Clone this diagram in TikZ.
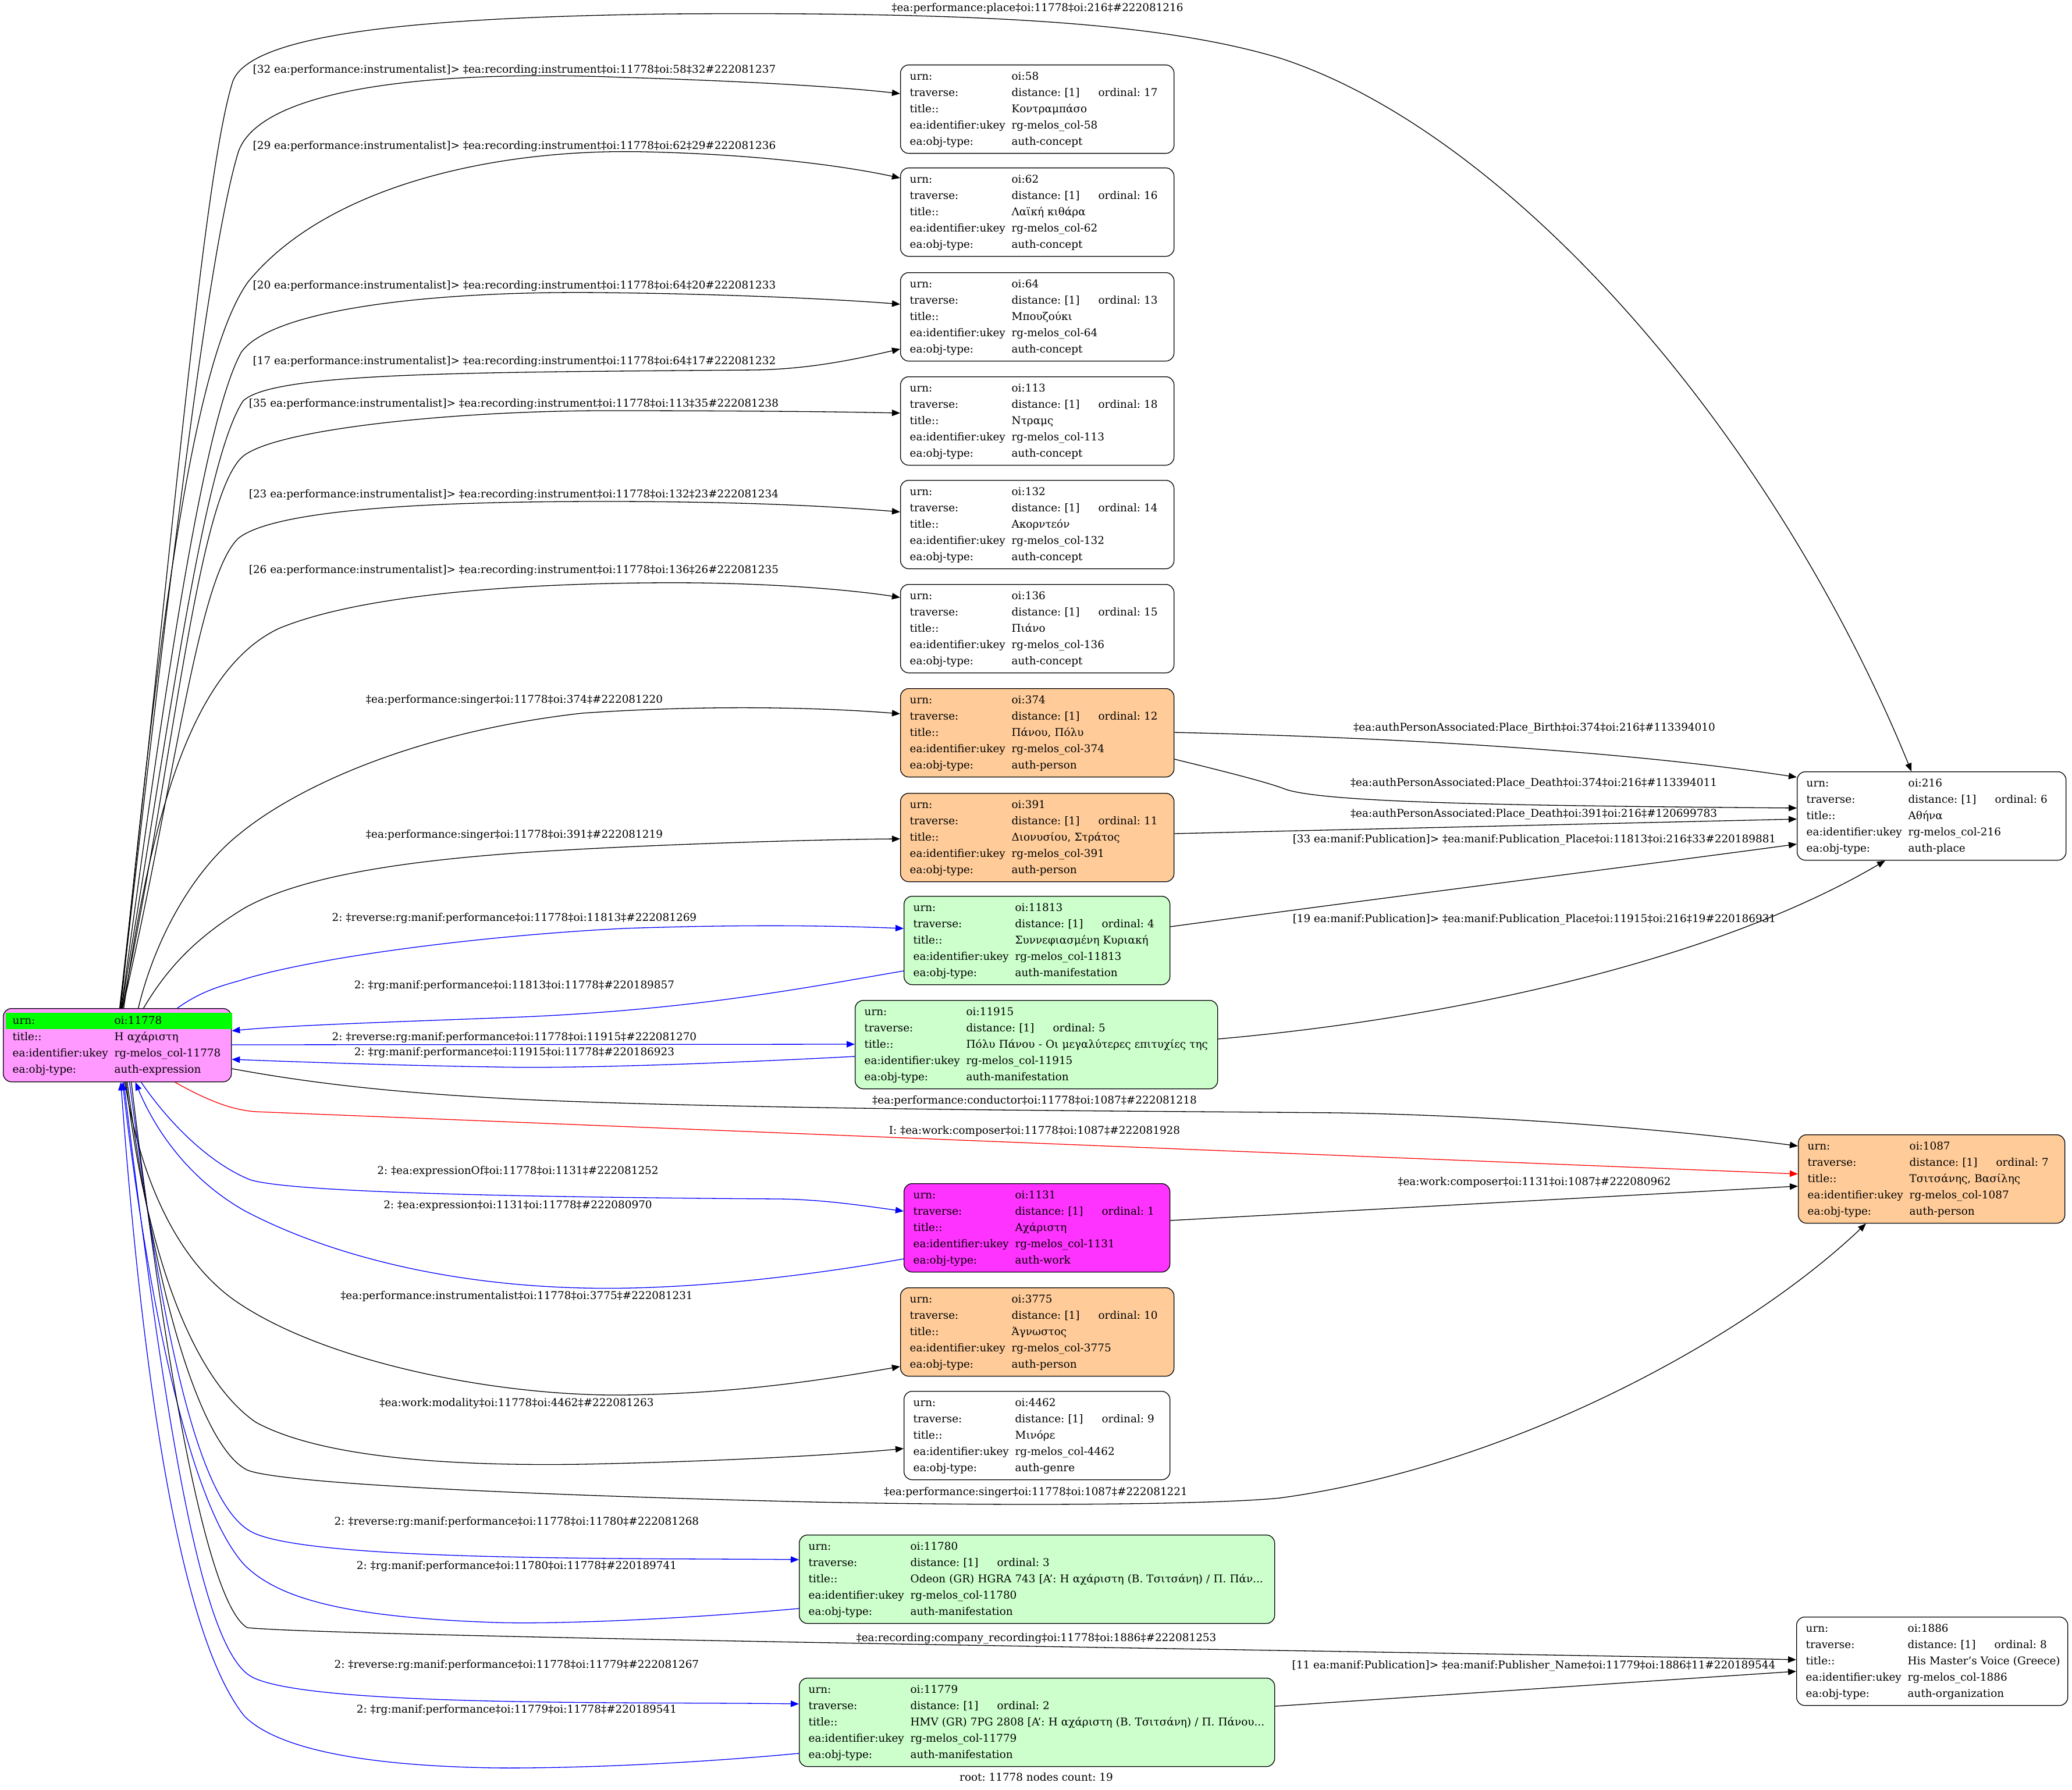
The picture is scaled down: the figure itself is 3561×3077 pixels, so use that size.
\documentclass[tikz,border=0pt]{standalone}
\usepackage{fontspec}
\setmainfont{DejaVu Serif}
\usepackage{array}
\usepackage{colortbl}
\usetikzlibrary{calc,arrows.meta}
\frenchspacing

\definecolor{persfill}{HTML}{FFCC99}
\definecolor{maniffill}{HTML}{CCFFCC}
\definecolor{workfill}{HTML}{FF33FF}
\definecolor{rootfill}{HTML}{FF99FF}
\definecolor{urngreen}{HTML}{00FF00}

\newcommand{\rowsof}[4]{%
\begin{tabular}{@{}p{87.5pt}@{}p{74.5pt}@{}l@{}}
urn: & oi:#1 & \\
traverse: & distance: [1] & ordinal: #2\\
title:: & \multicolumn{2}{@{}l@{}}{#3}\\
ea:identifier:ukey & \multicolumn{2}{@{}l@{}}{rg-melos\_col-#1}\\
ea:obj-type: & \multicolumn{2}{@{}l@{}}{auth-#4}
\end{tabular}}

\begin{document}
\begin{tikzpicture}[x=0.5pt, y=-0.5pt, line width=0.65pt,
    every node/.style={font=\fontsize{9.2}{14}\selectfont\frenchspacing},
    rec/.style={draw, rounded corners=7pt, anchor=north west, inner xsep=8pt, inner ysep=0pt, minimum height=76pt, align=left},
    lbl/.style={inner sep=0pt}]
            \useasboundingbox (0,0) rectangle (3561,3077);

            \node[rec, fill=rootfill, text width=180pt, minimum height=63pt] (R) at (5,1733) {\begin{tabular}{@{}p{86pt}@{\hspace{1.5pt}}p{95pt}@{}}
                \cellcolor{urngreen}urn: & \cellcolor{urngreen}oi:11778\\
                title:: & Η αχάριστη\\
                ea:identifier:ukey & rg-melos\_col-11778\\
                ea:obj-type: & auth-expression
                \end{tabular}};

            \node[rec, text width=219pt] (N58) at (1547,111) {\rowsof{58}{17}{Κοντραμπάσο}{concept}};
            \node[rec, text width=219pt] (N62) at (1547,288) {\rowsof{62}{16}{Λαϊκή κιθάρα}{concept}};
            \node[rec, text width=219pt] (N64) at (1547,468) {\rowsof{64}{13}{Μπουζούκι}{concept}};
            \node[rec, text width=219pt] (N113) at (1547,647) {\rowsof{113}{18}{Ντραμς}{concept}};
            \node[rec, text width=219pt] (N132) at (1547,825) {\rowsof{132}{14}{Ακορντεόν}{concept}};
            \node[rec, text width=219pt] (N136) at (1547,1004) {\rowsof{136}{15}{Πιάνο}{concept}};
            \node[rec, fill=persfill, text width=219pt] (N374) at (1547,1183) {\rowsof{374}{12}{Πάνου, Πόλυ}{person}};
            \node[rec, fill=persfill, text width=219pt] (N391) at (1547,1363) {\rowsof{391}{11}{Διονυσίου, Στράτος}{person}};
            \node[rec, fill=maniffill, text width=212.5pt] (N11813) at (1553,1540) {\rowsof{11813}{4}{Συννεφιασμένη Κυριακή}{manifestation}};
            \node[rec, fill=maniffill, text width=295.5pt] (N11915) at (1469,1719) {\rowsof{11915}{5}{Πόλυ Πάνου - Οι μεγαλύτερες επιτυχίες της}{manifestation}};
            \node[rec, fill=workfill, text width=212.5pt] (N1131) at (1553,2034) {\rowsof{1131}{1}{Αχάριστη}{work}};
            \node[rec, fill=persfill, text width=219pt] (N3775) at (1547,2213) {\rowsof{3775}{10}{Άγνωστος}{person}};
            \node[rec, text width=212.5pt] (N4462) at (1553,2391) {\rowsof{4462}{9}{Μινόρε}{genre}};
            \node[rec, fill=maniffill, text width=392.5pt] (N11780) at (1373,2638) {\rowsof{11780}{3}{Odeon (GR) HGRA 743 [A{\char"27}: Η αχάριστη (Β. Τσιτσάνη) / Π. Πάν...}{manifestation}};
            \node[rec, fill=maniffill, text width=392.5pt] (N11779) at (1373,2884) {\rowsof{11779}{2}{HMV (GR) 7PG 2808 [A{\char"27}: Η αχάριστη (Β. Τσιτσάνη) / Π. Πάνου...}{manifestation}};
            \node[rec, text width=215pt] (N216) at (3088,1326) {\rowsof{216}{6}{Αθήνα}{place}};
            \node[rec, fill=persfill, text width=213pt] (N1087) at (3090,1950) {\rowsof{1087}{7}{Τσιτσάνης, Βασίλης}{person}};
            \node[rec, text width=217pt] (N1886) at (3087,2779) {\rowsof{1886}{8}{His Master{\char"27}s Voice (Greece)}{organization}};

            \tikzset{arr/.style={-{Triangle[length=7pt,width=5.5pt]}}}
            \tikzset{barr/.style={arr, draw=blue}}
            \tikzset{rarr/.style={arr, draw=red}}

            \draw[arr] ($(R.north)+(4,0)$) .. controls (300,900) and (350,300) .. (400,140) .. controls (430,60) and (700,30) .. (1150,24) .. controls (1700,20) and (2000,40) .. (2200,100) .. controls (2600,230) and (3050,750) .. ($(N216.north west)+(197,0)$);
            \draw[arr] ($(R.north)+(5,0)$) .. controls (290,1000) and (360,420) .. (410,260) .. controls (450,150) and (750,120) .. (1069,133) .. controls (1300,140) and (1450,150) .. ($(N58.north west)+(0,50)$);
            \draw[arr] ($(R.north)+(6,0)$) .. controls (270,1100) and (330,620) .. (426,485) .. controls (560,320) and (850,255) .. (1107,261) .. controls (1300,265) and (1450,285) .. ($(N62.north west)+(0,18)$);
            \draw[arr] ($(R.north)+(7,0)$) .. controls (280,1200) and (350,720) .. (415,605) .. controls (470,530) and (750,500) .. (1030,503) .. controls (1250,505) and (1450,515) .. ($(N64.north west)+(0,55)$);
            \draw[arr] ($(R.north)+(7,0)$) .. controls (290,1250) and (350,790) .. (418,689) .. controls (470,640) and (800,640) .. (1300,636) .. controls (1400,634) and (1480,615) .. ($(N64.north west)+(0,132)$);
            \draw[arr] ($(R.north)+(8,0)$) .. controls (300,1300) and (340,850) .. (418,784) .. controls (480,735) and (800,706) .. (1038,706) .. controls (1300,706) and (1450,708) .. ($(N113.north west)+(0,63)$);
            \draw[arr] ($(R.north)+(9,0)$) .. controls (300,1350) and (340,990) .. (410,925) .. controls (480,870) and (800,862) .. (1038,862) .. controls (1300,862) and (1450,872) .. ($(N132.north west)+(0,55)$);
            \draw[arr] ($(R.north)+(11,0)$) .. controls (260,1400) and (330,1150) .. (480,1080) .. controls (650,1010) and (1000,1000) .. (1200,1002) .. controls (1350,1004) and (1470,1015) .. ($(N136.north west)+(0,23)$);
            \draw[arr] ($(R.north)+(36,0)$) .. controls (270,1600) and (340,1490) .. (411,1434) .. controls (500,1360) and (700,1260) .. (1000,1226) .. controls (1200,1212) and (1400,1215) .. ($(N374.north west)+(0,44)$);
            \draw[arr] ($(R.north)+(45,0)$) .. controls (290,1660) and (340,1610) .. (420,1561) .. controls (520,1505) and (700,1480) .. (893,1466) .. controls (1100,1452) and (1400,1443) .. ($(N391.north west)+(0,79)$);
            \draw[barr] ($(R.north)+(103,0)$) .. controls (340,1708) and (370,1697) .. (411,1686) .. controls (520,1650) and (800,1610) .. (1071,1596) .. controls (1300,1588) and (1450,1592) .. ($(N11813.north west)+(0,56)$);
            \draw[barr] ($(N11813.north west)+(0,129)$) .. controls (1400,1695) and (1200,1735) .. (900,1748) .. controls (700,1756) and (500,1762) .. ($(R.north east)+(0,39)$);
            \draw[barr] ($(R.north east)+(0,63)$) -- ($(N11915.north west)+(0,76)$);
            \draw[barr] ($(N11915.north west)+(0,97)$) .. controls (1300,1825) and (1000,1838) .. (848,1834) .. controls (700,1832) and (500,1825) .. ($(R.north east)+(0,88)$);
            \draw[arr] ($(R.north east)+(0,104)$) .. controls (550,1865) and (700,1880) .. (900,1890) .. controls (1300,1908) and (2000,1910) .. (2300,1913) .. controls (2600,1918) and (2900,1945) .. ($(N1087.north west)+(0,20)$);
            \draw[rarr] ($(R.south)+(99,0)$) .. controls (350,1888) and (395,1908) .. (440,1911) -- ($(N1087.north west)+(0,68)$);
            \draw[barr] ($(R.south)+(41,0)$) .. controls (290,1930) and (360,2000) .. (430,2028) .. controls (500,2050) and (900,2058) .. (1340,2061) .. controls (1420,2062) and (1500,2075) .. ($(N1131.north west)+(0,48)$);
            \draw[barr] ($(N1131.north west)+(0,130)$) .. controls (1350,2200) and (1150,2218) .. (1000,2214) .. controls (750,2208) and (550,2150) .. (420,2081) .. controls (330,2030) and (270,1950) .. ($(R.south)+(31,0)$);
            \draw[arr] ($(R.south)+(13,0)$) .. controls (240,2020) and (300,2160) .. (400,2233) .. controls (550,2340) and (850,2400) .. (1070,2398) .. controls (1250,2396) and (1400,2375) .. ($(N3775.north west)+(0,136)$);
            \draw[arr] ($(R.south)+(15,0)$) .. controls (250,2150) and (330,2370) .. (440,2445) .. controls (560,2510) and (800,2520) .. (1000,2517) .. controls (1250,2512) and (1450,2500) .. ($(N4462.north west)+(0,99)$);
            \draw[arr] ($(R.south)+(17,0)$) .. controls (270,2250) and (350,2490) .. (425,2527) .. controls (480,2550) and (900,2570) .. (1400,2582) .. controls (1800,2590) and (2100,2585) .. (2200,2575) .. controls (2600,2520) and (3000,2300) .. ($(N1087.south west)+(117,0)$);
            \draw[barr] ($(R.south)+(21,0)$) .. controls (280,2300) and (340,2580) .. (430,2632) .. controls (520,2685) and (1100,2678) .. ($(N11780.north west)+(0,43)$);
            \draw[barr] ($(N11780.north west)+(0,127)$) .. controls (1150,2785) and (950,2792) .. (850,2789) .. controls (600,2780) and (480,2750) .. (420,2690) .. controls (320,2580) and (250,2200) .. ($(R.south)+(9,0)$);
            \draw[arr] ($(R.south)+(24,0)$) .. controls (290,2400) and (360,2760) .. (425,2798) .. controls (600,2815) and (2500,2840) .. ($(N1886.north west)+(0,74)$);
            \draw[barr] ($(R.south)+(11,0)$) .. controls (290,2500) and (350,2830) .. (430,2881) .. controls (520,2935) and (1100,2925) .. ($(N11779.north west)+(0,45)$);
            \draw[barr] ($(N11779.north west)+(0,130)$) .. controls (1150,3035) and (950,3040) .. (850,3039) .. controls (600,3035) and (470,3000) .. (420,2950) .. controls (300,2800) and (240,2300) .. ($(R.south)+(6,0)$);

            \draw[arr] ($(N374.north east)+(0,76)$) .. controls (2500,1270) and (2850,1300) .. ($(N216.north west)+(0,10)$);
            \draw[arr] ($(N374.north east)+(0,122)$) .. controls (2100,1325) and (2180,1345) .. (2210,1357) .. controls (2280,1380) and (2600,1385) .. ($(N216.north west)+(0,63)$);
            \draw[arr] ($(N391.north east)+(0,70)$) -- ($(N216.north west)+(0,82)$);
            \draw[arr] ($(N11813.north east)+(0,53)$) .. controls (2400,1540) and (2800,1490) .. ($(N216.north west)+(0,125)$);
            \draw[arr] ($(N11915.north east)+(0,67)$) .. controls (2500,1750) and (2950,1650) .. ($(N216.south west)+(152,0)$);
            \draw[arr] ($(N1131.north east)+(0,64)$) -- ($(N1087.north west)+(0,89)$);
            \draw[arr] ($(N11779.north east)+(0,49)$) -- ($(N1886.north west)+(0,94)$);

            \node[lbl] (L1) at (1783,14) {‡ea:performance:place‡oi:11778‡oi:216‡\#222081216};
            \node[lbl] (L2) at (884,121) {[32 ea:performance:instrumentalist]> ‡ea:recording:instrument‡oi:11778‡oi:58‡32\#222081237};
            \node[lbl] (L3) at (884,252) {[29 ea:performance:instrumentalist]> ‡ea:recording:instrument‡oi:11778‡oi:62‡29\#222081236};
            \node[lbl] (L4) at (884,492) {[20 ea:performance:instrumentalist]> ‡ea:recording:instrument‡oi:11778‡oi:64‡20\#222081233};
            \node[lbl] (L5) at (884,622) {[17 ea:performance:instrumentalist]> ‡ea:recording:instrument‡oi:11778‡oi:64‡17\#222081232};
            \node[lbl] (L6) at (883,695) {[35 ea:performance:instrumentalist]> ‡ea:recording:instrument‡oi:11778‡oi:113‡35\#222081238};
            \node[lbl] (L7) at (883,851) {[23 ea:performance:instrumentalist]> ‡ea:recording:instrument‡oi:11778‡oi:132‡23\#222081234};
            \node[lbl] (L8) at (883,981) {[26 ea:performance:instrumentalist]> ‡ea:recording:instrument‡oi:11778‡oi:136‡26\#222081235};
            \node[lbl] (L9) at (884,1204) {‡ea:performance:singer‡oi:11778‡oi:374‡\#222081220};
            \node[lbl] (L10) at (884,1436) {‡ea:performance:singer‡oi:11778‡oi:391‡\#222081219};
            \node[lbl] (L11) at (884,1579) {2: ‡reverse:rg:manif:performance‡oi:11778‡oi:11813‡\#222081269};
            \node[lbl] (L12) at (884,1695) {2: ‡rg:manif:performance‡oi:11813‡oi:11778‡\#220189857};
            \node[lbl] (L13) at (884,1784) {2: ‡reverse:rg:manif:performance‡oi:11778‡oi:11915‡\#222081270};
            \node[lbl] (L14) at (884,1810) {2: ‡rg:manif:performance‡oi:11915‡oi:11778‡\#220186923};
            \node[lbl] (L15) at (1778,1892) {‡ea:performance:conductor‡oi:11778‡oi:1087‡\#222081218};
            \node[lbl] (L16) at (1778,1944) {I: ‡ea:work:composer‡oi:11778‡oi:1087‡\#222081928};
            \node[lbl] (L17) at (890,2013) {2: ‡ea:expressionOf‡oi:11778‡oi:1131‡\#222081252};
            \node[lbl] (L18) at (890,2073) {2: ‡ea:expression‡oi:1131‡oi:11778‡\#222080970};
            \node[lbl] (L19) at (888,2228) {‡ea:performance:instrumentalist‡oi:11778‡oi:3775‡\#222081231};
            \node[lbl] (L20) at (888,2413) {‡ea:work:modality‡oi:11778‡oi:4462‡\#222081263};
            \node[lbl] (L21) at (1780,2566) {‡ea:performance:singer‡oi:11778‡oi:1087‡\#222081221};
            \node[lbl] (L22) at (888,2617) {2: ‡reverse:rg:manif:performance‡oi:11778‡oi:11780‡\#222081268};
            \node[lbl] (L23) at (888,2693) {2: ‡rg:manif:performance‡oi:11780‡oi:11778‡\#220189741};
            \node[lbl] (L24) at (1781,2817) {‡ea:recording:company\_recording‡oi:11778‡oi:1886‡\#222081253};
            \node[lbl] (L25) at (888,2863) {2: ‡reverse:rg:manif:performance‡oi:11778‡oi:11779‡\#222081267};
            \node[lbl] (L26) at (888,2940) {2: ‡rg:manif:performance‡oi:11779‡oi:11778‡\#220189541};
            \node[lbl] (L27) at (2637,1252) {‡ea:authPersonAssociated:Place\_Birth‡oi:374‡oi:216‡\#113394010};
            \node[lbl] (L28) at (2636,1347) {‡ea:authPersonAssociated:Place\_Death‡oi:374‡oi:216‡\#113394011};
            \node[lbl] (L29) at (2636,1400) {‡ea:authPersonAssociated:Place\_Death‡oi:391‡oi:216‡\#120699783};
            \node[lbl] (L30) at (2637,1444) {[33 ea:manif:Publication]> ‡ea:manif:Publication\_Place‡oi:11813‡oi:216‡33\#220189881};
            \node[lbl] (L31) at (2637,1581) {[19 ea:manif:Publication]> ‡ea:manif:Publication\_Place‡oi:11915‡oi:216‡19\#220186931};
            \node[lbl] (L32) at (2637,2032) {‡ea:work:composer‡oi:1131‡oi:1087‡\#222080962};
            \node[lbl] (L33) at (2636,2864) {[11 ea:manif:Publication]> ‡ea:manif:Publisher\_Name‡oi:11779‡oi:1886‡11\#220189544};
            \node[lbl] (L34) at (1781,3055) {root: 11778 nodes count: 19};

        \end{tikzpicture}
\end{document}
